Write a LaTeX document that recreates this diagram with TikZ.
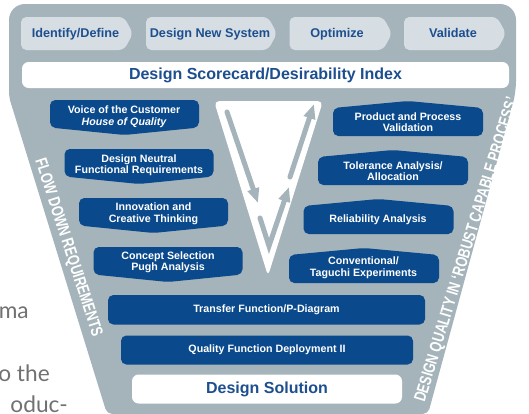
\documentclass[tikz,border=0pt]{standalone}
\usepackage{fontspec}
\setmainfont{Liberation Sans}
\newfontfamily\narrowfont[FakeStretch=0.76]{Liberation Sans}
\newfontfamily\pagefont{Lato}
\usepackage{tikz}
\usetikzlibrary{arrows.meta}
\definecolor{panelgray}{HTML}{A5B4BB}
\definecolor{stagegray}{HTML}{D6DEE3}
\definecolor{boxblue}{HTML}{0A4A8C}
\definecolor{txtblue}{HTML}{1D4F8F}
\definecolor{pagegray}{HTML}{707173}

\begin{document}
\begin{tikzpicture}[x=0.75pt, y=-0.75pt,
  stagetxt/.style={font=\bfseries\fontsize{9.5}{11}\selectfont, text=txtblue, text height=7pt, text depth=1.5pt},
  boxtxt/.style={font=\bfseries\fontsize{8}{8.8}\selectfont, text=white, align=center, inner sep=0pt},
  bigtxt/.style={font=\bfseries\fontsize{12}{14}\selectfont, text=txtblue},
  sidetxt/.style={font=\narrowfont\bfseries\fontsize{12.5}{14}\selectfont, text=white, inner sep=0pt},
  pagetxt/.style={font=\pagefont\fontsize{17}{20}\selectfont, text=pagegray, anchor=base east, inner sep=0pt},
  vline/.style={draw=panelgray, line width=3.75pt, line cap=round},
  vtip/.style={-{Triangle[length=11pt,width=8.5pt]}}]
\useasboundingbox (0,0) rectangle (529,414);
\clip (0,0) rectangle (529,414);
\fill[white] (0,0) rectangle (529,414);
%%%%% Page text %%%%%
\node[pagetxt] (pa) at (29,318) {ma};
\node[pagetxt] (pb) at (50,381) {o the};
\node[pagetxt] (pc) at (68,412) {oduc-};
%%%%% Panel %%%%%
\fill[panelgray] (9,97) [rounded corners=12pt] -- (9,4) -- (516,4)
  [rounded corners=8pt] -- (516,92) [rounded corners=4pt] -- (428,414) -- (107,414) -- cycle;
%%%%% Stages %%%%%
\foreach \xa/\xb/\xt/\nm/\txt in {21/133/75.5/ident/{Identify/Define}, 146/277/210/newsys/Design New System,
  289.5/392/337/optim/Optimize, 404/506/453/valid/Validate}{
\fill[stagegray, rounded corners=4pt] (\xa,17) -- (\xb-9,17) -- (\xb,33.5) -- (\xb-9,50) -- (\xa,50) -- cycle;
\node[stagetxt] (\nm) at (\xt,33.5) {\txt};
}
\fill[white, rounded corners=5pt] (22,62) rectangle (509,88);
\node[bigtxt] (score) at (265.5,75) {Design Scorecard/Desirability Index};
%%%%% V %%%%%
\fill[white, rounded corners=4pt] (214,101) -- (323,101) -- (268,276) -- cycle;
\coordinate (va) at (227,112);
\coordinate (vb) at (258,203);
\coordinate (vc) at (260,218);
\coordinate (vd) at (269,246);
\coordinate (ve) at (289,187);
\coordinate (vf) at (290,177);
\coordinate (vg) at (314,104);
\draw[vline, vtip] (va) -- (vb);
\draw[vline, vtip] (vc) -- (vd) -- (ve);
\draw[vline, vtip] (vf) -- (vg);
%%%%% Flow down %%%%%
\fill[boxblue, rounded corners=4pt] (50,100) -- (199,100) -- (199,127.5) -- (124.5,135) -- (50,127.5) -- cycle;
\fill[boxblue, rounded corners=4pt] (64.5,149) -- (213.5,149) -- (213.5,176.5) -- (139,184) -- (64.5,176.5) -- cycle;
\fill[boxblue, rounded corners=4pt] (79,198) -- (228,198) -- (228,225.5) -- (153.5,233) -- (79,225.5) -- cycle;
\fill[boxblue, rounded corners=4pt] (93.5,247) -- (242.5,247) -- (242.5,274.5) -- (168,282) -- (93.5,274.5) -- cycle;
\node[boxtxt] (voc) at (124,116.5) {Voice of the Customer\\\itshape House of Quality};
\node[boxtxt] (neutral) at (139,165.3) {Design Neutral\\Functional Requirements};
\node[boxtxt] (innov) at (153.5,213.8) {Innovation and\\Creative Thinking};
\node[boxtxt] (concept) at (168,262.2) {Concept Selection\\Pugh Analysis};
%%%%% Build up %%%%%
\fill[boxblue, rounded corners=4pt] (333,108) -- (408,101) -- (483,108) -- (483,136) -- (333,136) -- cycle;
\fill[boxblue, rounded corners=4pt] (318,157) -- (393,150) -- (468,157) -- (468,185) -- (318,185) -- cycle;
\fill[boxblue, rounded corners=4pt] (303.5,206) -- (378.5,199) -- (453.5,206) -- (453.5,234) -- (303.5,234) -- cycle;
\fill[boxblue, rounded corners=4pt] (289,255) -- (364,248) -- (439,255) -- (439,283) -- (289,283) -- cycle;
\node[boxtxt] (ppv) at (408,122.2) {Product and Process\\Validation};
\node[boxtxt] (toler) at (393,171.2) {Tolerance Analysis/\\Allocation};
\node[boxtxt] (relia) at (378,219.3) {Reliability Analysis};
\node[boxtxt] (taguchi) at (363.5,267.8) {Conventional/\\Taguchi Experiments};
%%%%% Bottom %%%%%
\fill[boxblue, rounded corners=4pt] (108,295) rectangle (425,324.5);
\fill[boxblue, rounded corners=4pt] (121,335.5) rectangle (413,364.5);
\fill[white, rounded corners=5pt] (132,374.5) rectangle (402,403.5);
\node[boxtxt] (transfer) at (266.5,310) {Transfer Function/P-Diagram};
\node[boxtxt] (qfd) at (267,350) {Quality Function Deployment II};
\node[bigtxt] (solution) at (267,389) {Design Solution};
%%%%% Side labels %%%%%
\node[sidetxt, rotate=-72] (flow) at (68,248) {FLOW DOWN REQUIREMENTS};
\node[sidetxt, rotate=73] (quality) at (467,250) {DESIGN QUALITY IN ‘ROBUST CAPABLE PROCESS’};
\end{tikzpicture}
\end{document}
